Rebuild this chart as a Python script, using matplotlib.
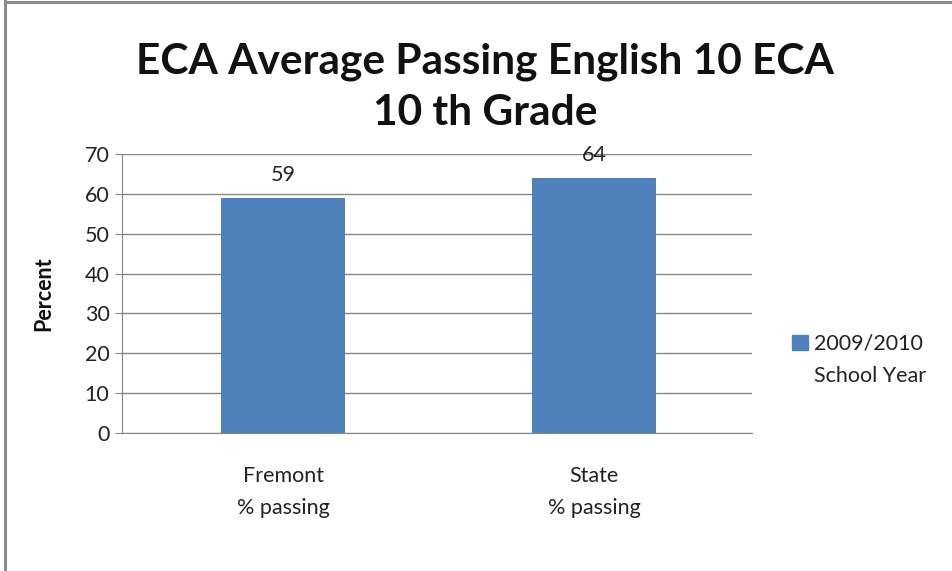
import matplotlib
matplotlib.use("Agg")
import matplotlib.pyplot as plt
from matplotlib.lines import Line2D
from matplotlib.patches import Patch

categories = ["Fremont\n% passing", "State\n% passing"]
values = [59, 64]
series_name = ["2009/2010", "School Year"]
yticks = [0, 10, 20, 30, 40, 50, 60, 70]

plt.rcParams['font.family'] = ['Lato', 'DejaVu Sans']

W, H = 953, 571
fig = plt.figure(figsize=(W/100, H/100), dpi=100)
ax = fig.add_axes([122/W, 1-433/H, (752-122)/W, (433-154)/H])

bar_color = "#4F81BD"
x = list(range(len(categories)))
bars = ax.bar(x, values, width=0.399, color=bar_color, zorder=3)
for xi, v in zip(x, values):
    ax.annotate(str(v), (xi, v), xytext=(0, 9), textcoords="offset points",
                ha="center", va="bottom", fontsize=15.5, color="#222222")

ax.set_xlim(-0.518, 1.508)
ax.set_ylim(0, 70)
ax.set_yticks(yticks)
ax.set_xticks(x)
ax.set_xticklabels(categories, fontsize=15.5, linespacing=1.75, color="#222222")
ax.tick_params(axis='y', labelsize=15.5, colors="#222222", length=5, color="#868686", pad=4)
ax.tick_params(axis='x', length=0, pad=24)
ax.grid(axis='y', color="#868686", linewidth=1, zorder=0)
for s in ["top", "right"]:
    ax.spines[s].set_visible(False)
ax.spines["left"].set_color("#868686")
ax.spines["bottom"].set_color("#868686")
ax.set_ylabel("Percent", fontsize=15.5, fontweight="bold", labelpad=22, color="#111111")

fig.text(485/W, 1-62/H, "ECA Average Passing English 10 ECA", ha="center", va="center",
         fontsize=30.5, fontweight="bold", color="#111111")
fig.text(485/W, 1-113/H, "10 th Grade", ha="center", va="center",
         fontsize=30.5, fontweight="bold", color="#111111")

handles = [Patch(facecolor=bar_color, edgecolor=bar_color)]
leg = fig.legend(handles, [series_name[0]], loc="center left", bbox_to_anchor=(783/W, 1-344/H),
                 frameon=False, fontsize=15.5, handlelength=0.75, handleheight=0.75,
                 handletextpad=0.3, borderaxespad=0)
for t in leg.get_texts():
    t.set_color("#222222")

fig.canvas.draw()
bb = leg.get_texts()[0].get_window_extent()
fig.text(bb.x0/W, 1-376/H, series_name[1], ha="left", va="center",
         fontsize=15.5, color="#222222")

fig.add_artist(Line2D([4.5/W, 4.5/W], [0, 1-1/H], color="#8c8c8c", linewidth=2.2))
fig.add_artist(Line2D([4.5/W, 1], [1-2/H, 1-2/H], color="#8c8c8c", linewidth=2.2))

fig.savefig("out.png", dpi=100)
